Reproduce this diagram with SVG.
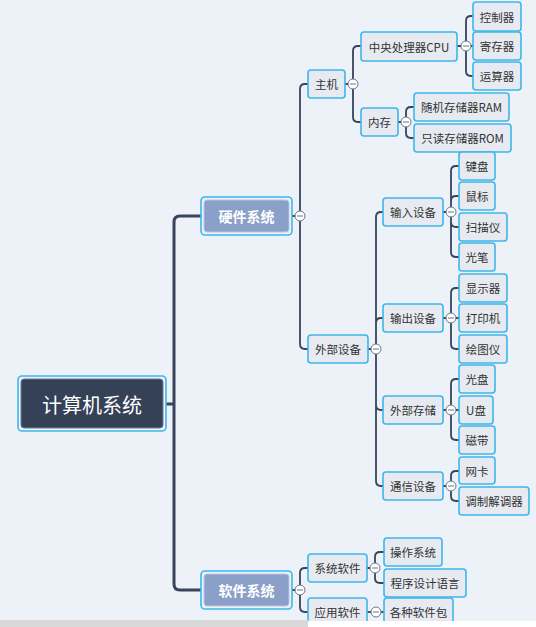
<svg xmlns="http://www.w3.org/2000/svg" width="536" height="627" viewBox="0 0 536 627">
<style>
.n rect{fill:#e7ebf1;stroke:#3db6ea;stroke-width:1.6}
.n text{font-family:"Noto Sans CJK SC","Noto Sans",sans-serif;font-size:11.5px;fill:#333;text-anchor:middle;dominant-baseline:central}
.l1 rect.o{fill:none;stroke:#3db6ea;stroke-width:1.6}
.l1 rect.i{fill:#8aa0c8;stroke:#b9c8e2;stroke-width:1}
.l1 text{font-family:"Noto Sans CJK SC",sans-serif;font-size:14px;font-weight:bold;fill:#fff;text-anchor:middle;dominant-baseline:central}
.root rect.o{fill:none;stroke:#3db6ea;stroke-width:1.6}
.root rect.i{fill:#344157;stroke:#6f7d94;stroke-width:1}
.root text{font-family:"Noto Sans CJK SC",sans-serif;font-size:20px;fill:#fff;text-anchor:middle;dominant-baseline:central}
#connectors path{fill:none;stroke:#37445a;stroke-width:1.8}
#connectors path.t{stroke-width:3}
.k circle{fill:#fff;stroke:#6b7787;stroke-width:1}
.k line{stroke:#6b7787;stroke-width:1}
</style>
<defs>
<g id="knob" class="k"><circle cx="0" cy="0" r="5"/><line x1="-3" y1="0" x2="3" y2="0"/></g>
</defs>
<rect x="0" y="0" width="536" height="627" fill="#edf2f9"/>
<g id="connectors">
<path class="t" d="M166 404 H174 M174 404 V222 Q174 216 180 216 H201 M174 404 V584 Q174 590 180 590 H201"/>
<path d="M292 216 H300 M300 216 V89 Q300 84 305 84 H308 M300 216 V344 Q300 349 305 349 H308"/>
<path d="M345 84 H353 M353 84 V51 Q353 46 358 46 H361 M353 84 V117 Q353 122 358 122 H361"/>
<path d="M457 46 H473 M466 46 V21 Q466 16 471 16 H473 M466 46 V71 Q466 76 471 76 H473"/>
<path d="M398 122 H406 M406 122 V112 Q406 107 411 107 H414 M406 122 V133 Q406 138 411 138 H414"/>
<path d="M368 349 H376 M376 349 V217 Q376 212 381 212 H383 M376 349 V323 Q376 318 381 318 H383 M376 349 V405 Q376 410 381 410 H383 M376 349 V481 Q376 486 381 486 H383"/>
<path d="M443 212 H451 M451 212 V171 Q451 166 456 166 H459 M451 212 V201 Q451 196 456 196 H459 M451 212 V222 Q451 227 456 227 H459 M451 212 V252 Q451 257 456 257 H459"/>
<path d="M443 318 H459 M451 318 V293 Q451 288 456 288 H459 M451 318 V344 Q451 349 456 349 H459"/>
<path d="M443 410 H459 M451 410 V384 Q451 379 456 379 H459 M451 410 V435 Q451 440 456 440 H459"/>
<path d="M443 486 H451 M451 486 V476 Q451 471 456 471 H459 M451 486 V496 Q451 501 456 501 H459"/>
<path d="M292 590 H300 M300 590 V573 Q300 568 305 568 H308 M300 590 V607 Q300 612 305 612 H308"/>
<path d="M367 568 H375 M375 568 V557 Q375 552 380 552 H384 M375 568 V578 Q375 583 380 583 H384"/>
<path d="M367 612 H384"/>
<use href="#knob" x="300" y="216"/>
<use href="#knob" x="353" y="84"/>
<use href="#knob" x="466" y="46"/>
<use href="#knob" x="406" y="122"/>
<use href="#knob" x="376" y="349"/>
<use href="#knob" x="451" y="212"/>
<use href="#knob" x="451" y="318"/>
<use href="#knob" x="451" y="410"/>
<use href="#knob" x="451" y="486"/>
<use href="#knob" x="300" y="590"/>
<use href="#knob" x="375" y="568"/>
<use href="#knob" x="376" y="612"/>
</g>
<g id="root" class="root"><rect class="o" x="18" y="376" width="148" height="55" rx="4"/><rect class="i" x="21" y="379" width="142" height="49" rx="3"/><text x="92" y="404">计算机系统</text></g>
<g id="hw" class="l1"><rect class="o" x="201" y="197" width="91" height="38" rx="4"/><rect class="i" x="204" y="200" width="85" height="32" rx="3"/><text x="246.5" y="216">硬件系统</text></g>
<g id="sw" class="l1"><rect class="o" x="201" y="571" width="91" height="38" rx="4"/><rect class="i" x="204" y="574" width="85" height="32" rx="3"/><text x="246.5" y="590">软件系统</text></g>
<g id="zhuji" class="n"><rect x="308" y="70" width="37" height="28" rx="3"/><text x="326.5" y="84">主机</text></g>
<g id="cpu" class="n"><rect x="361" y="32" width="96" height="29" rx="3"/><text x="409" y="46.5">中央处理器CPU</text></g>
<g id="kzq" class="n"><rect x="473" y="2" width="48" height="29" rx="3"/><text x="497" y="16.5">控制器</text></g>
<g id="jcq" class="n"><rect x="473" y="32" width="48" height="28" rx="3"/><text x="497" y="46">寄存器</text></g>
<g id="ysq" class="n"><rect x="473" y="62" width="48" height="28" rx="3"/><text x="497" y="76">运算器</text></g>
<g id="neicun" class="n"><rect x="361" y="108" width="37" height="28" rx="3"/><text x="379.5" y="122">内存</text></g>
<g id="ram" class="n"><rect x="414" y="93" width="95" height="28" rx="3"/><text x="461.5" y="107">随机存储器RAM</text></g>
<g id="rom" class="n"><rect x="414" y="124" width="97" height="28" rx="3"/><text x="462.5" y="138">只读存储器ROM</text></g>
<g id="wbsb" class="n"><rect x="308" y="335" width="60" height="28" rx="3"/><text x="338" y="349">外部设备</text></g>
<g id="srsb" class="n"><rect x="383" y="198" width="60" height="28" rx="3"/><text x="413" y="212">输入设备</text></g>
<g id="jp" class="n"><rect x="459" y="152" width="36" height="28" rx="3"/><text x="477" y="166">键盘</text></g>
<g id="sb" class="n"><rect x="459" y="182" width="36" height="28" rx="3"/><text x="477" y="196">鼠标</text></g>
<g id="smy" class="n"><rect x="459" y="213" width="48" height="28" rx="3"/><text x="483" y="227">扫描仪</text></g>
<g id="gb" class="n"><rect x="459" y="243" width="36" height="28" rx="3"/><text x="477" y="257">光笔</text></g>
<g id="scsb" class="n"><rect x="383" y="304" width="60" height="28" rx="3"/><text x="413" y="318">输出设备</text></g>
<g id="xsq" class="n"><rect x="459" y="274" width="48" height="28" rx="3"/><text x="483" y="288">显示器</text></g>
<g id="dyj" class="n"><rect x="459" y="304" width="48" height="28" rx="3"/><text x="483" y="318">打印机</text></g>
<g id="hty" class="n"><rect x="459" y="335" width="48" height="28" rx="3"/><text x="483" y="349">绘图仪</text></g>
<g id="wbcc" class="n"><rect x="383" y="396" width="60" height="28" rx="3"/><text x="413" y="410">外部存储</text></g>
<g id="gp" class="n"><rect x="459" y="365" width="36" height="28" rx="3"/><text x="477" y="379">光盘</text></g>
<g id="up" class="n"><rect x="459" y="396" width="34" height="28" rx="3"/><text x="476" y="410">U盘</text></g>
<g id="cd" class="n"><rect x="459" y="426" width="36" height="28" rx="3"/><text x="477" y="440">磁带</text></g>
<g id="txsb" class="n"><rect x="383" y="472" width="60" height="28" rx="3"/><text x="413" y="486">通信设备</text></g>
<g id="wk" class="n"><rect x="459" y="457" width="36" height="27" rx="3"/><text x="477" y="470.5">网卡</text></g>
<g id="tzjtq" class="n"><rect x="459" y="487" width="70" height="28" rx="3"/><text x="494" y="501">调制解调器</text></g>
<g id="xtrj" class="n"><rect x="308" y="554" width="59" height="28" rx="3"/><text x="337.5" y="568">系统软件</text></g>
<g id="czxt" class="n"><rect x="384" y="538" width="58" height="28" rx="3"/><text x="413" y="552">操作系统</text></g>
<g id="cxsj" class="n"><rect x="384" y="569" width="82" height="28" rx="3"/><text x="425" y="583">程序设计语言</text></g>
<g id="yyrj" class="n"><rect x="308" y="598" width="59" height="28" rx="3"/><text x="337.5" y="612">应用软件</text></g>
<g id="gzrjb" class="n"><rect x="384" y="598" width="69" height="28" rx="3"/><text x="418.5" y="612">各种软件包</text></g>
<rect x="0" y="620" width="308" height="7" fill="#d9d9d9"/>
<rect x="308" y="621" width="228" height="6" fill="#ffffff"/>
</svg>
